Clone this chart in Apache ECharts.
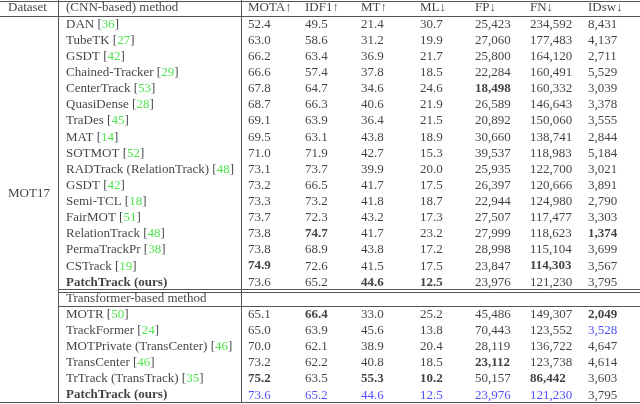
<!DOCTYPE html>
<html>
<head>
<meta charset="utf-8">
<script src="https://cdn.jsdelivr.net/npm/echarts@6/dist/echarts.min.js"></script>
<style>html,body{margin:0;padding:0;background:#fff}#main{width:640px;height:404px}</style>
</head>
<body>
<div id="main"></div>
<script>
// 表头
var headers = ['MOTA↑', 'IDF1↑', 'MT↑', 'ML↓', 'FP↓', 'FN↓', 'IDsw↓'];
var cnnMethods = ['DAN', 'TubeTK', 'GSDT', 'Chained-Tracker', 'CenterTrack', 'QuasiDense', 'TraDes', 'MAT', 'SOTMOT',
  'RADTrack (RelationTrack)', 'GSDT', 'Semi-TCL', 'FairMOT', 'RelationTrack', 'PermaTrackPr', 'CSTrack', 'PatchTrack (ours)'];
var cnnRefs = ['36', '27', '42', '29', '53', '28', '45', '14', '52', '48', '42', '18', '51', '48', '38', '19', ''];
var trMethods = ['MOTR', 'TrackFormer', 'MOTPrivate (TransCenter)', 'TransCenter', 'TrTrack (TransTrack)', 'PatchTrack (ours)'];
var trRefs = ['50', '24', '46', '46', '35', ''];
var mota = ['52.4', '63.0', '66.2', '66.6', '67.8', '68.7', '69.1', '69.5', '71.0', '73.1', '73.2', '73.3', '73.7', '73.8', '73.8', '74.9', '73.6',
  '65.1', '65.0', '70.0', '73.2', '75.2', '73.6'];
var idf1 = ['49.5', '58.6', '63.4', '57.4', '64.7', '66.3', '63.9', '63.1', '71.9', '73.7', '66.5', '73.2', '72.3', '74.7', '68.9', '72.6', '65.2',
  '66.4', '63.9', '62.1', '62.2', '63.5', '65.2'];
var mt = ['21.4', '31.2', '36.9', '37.8', '34.6', '40.6', '36.4', '43.8', '42.7', '39.9', '41.7', '41.8', '43.2', '41.7', '43.8', '41.5', '44.6',
  '33.0', '45.6', '38.9', '40.8', '55.3', '44.6'];
var ml = ['30.7', '19.9', '21.7', '18.5', '24.6', '21.9', '21.5', '18.9', '15.3', '20.0', '17.5', '18.7', '17.3', '23.2', '17.2', '17.5', '12.5',
  '25.2', '13.8', '20.4', '18.5', '10.2', '12.5'];
var fp = ['25,423', '27,060', '25,800', '22,284', '18,498', '26,589', '20,892', '30,660', '39,537', '25,935', '26,397', '22,944', '27,507', '27,999', '28,998', '23,847', '23,976',
  '45,486', '70,443', '28,119', '23,112', '50,157', '23,976'];
var fn = ['234,592', '177,483', '164,120', '160,491', '160,332', '146,643', '150,060', '138,741', '118,983', '122,700', '120,666', '124,980', '117,477', '118,623', '115,104', '114,303', '121,230',
  '149,307', '123,552', '136,722', '123,738', '86,442', '121,230'];
var idsw = ['8,431', '4,137', '2,711', '5,529', '3,039', '3,378', '3,555', '2,844', '5,184', '3,021', '3,891', '2,790', '3,303', '1,374', '3,699', '3,567', '3,795',
  '2,049', '3,528', '4,647', '4,614', '3,603', '3,795'];
// [行, 列] 粗体 / 蓝色
var boldCells = [[4, 4], [13, 1], [13, 6], [15, 0], [15, 5], [16, 2], [16, 3],
  [17, 1], [17, 6], [20, 4], [21, 0], [21, 2], [21, 3], [21, 5]];
var blueCells = [[18, 6], [22, 0], [22, 1], [22, 2], [22, 3], [22, 4], [22, 5]];

var colX = [248, 305, 361, 420, 475, 530, 588];
var methodX = 66;
var font = 'Liberation Serif';
var columns = [mota, idf1, mt, ml, fp, fn, idsw];

function has(list, r, c) {
  return list.some(function (p) { return p[0] === r && p[1] === c; });
}
function rowOf(i) { return i < 17 ? i + 1 : i + 2; }

var cells = [];
function addCell(x, row, text, extra) {
  cells.push({ value: [x, row], text: text, label: extra || {} });
}
addCell(8, 0, 'Dataset');
addCell(methodX, 0, '(CNN-based) method');
headers.forEach(function (h, c) { addCell(colX[c], 0, h); });
addCell(8, 11.5, 'MOT17');
addCell(methodX, 18, 'Transformer-based method');
var methods = cnnMethods.concat(trMethods);
var refs = cnnRefs.concat(trRefs);
methods.forEach(function (m, i) {
  var t = refs[i] ? '{n|' + m + ' [}{g|' + refs[i] + '}{n|]}' : '{b|' + m + '}';
  addCell(methodX, rowOf(i), t);
  columns.forEach(function (col, c) {
    var ex = {};
    if (has(boldCells, i, c)) ex.fontWeight = 'bold';
    if (has(blueCells, i, c)) ex.color = '#2222ff';
    addCell(colX[c], rowOf(i), col[i], ex);
  });
});

function hline(y, x1) {
  return [{ coord: [x1, y] }, { coord: [640, y] }];
}
function vline(x) {
  return [{ coord: [x, -0.5] }, { coord: [x, 24.5] }];
}

var myChart = echarts.init(document.getElementById('main'));
myChart.setOption({
  animation: false,
  grid: { left: 0, right: 0, top: 0, bottom: 0 },
  xAxis: { type: 'value', min: 0, max: 640, show: false },
  yAxis: { type: 'value', min: -0.5, max: 24.55, inverse: true, show: false },
  series: [{
    type: 'scatter',
    symbolSize: 0,
    data: cells.map(function (d) {
      return { value: d.value, name: d.text, label: d.label };
    }),
    label: {
      show: true,
      position: 'right',
      distance: 0,
      fontFamily: font,
      fontSize: 13,
      color: '#111',
      formatter: function (p) { return p.name; },
      rich: {
        n: { fontFamily: font, fontSize: 13, color: '#111' },
        g: { fontFamily: font, fontSize: 13, color: '#22dd22' },
        b: { fontFamily: font, fontSize: 13, color: '#111', fontWeight: 'bold' }
      }
    },
    markLine: {
      silent: true,
      symbol: 'none',
      label: { show: false },
      lineStyle: { color: '#555', width: 1, type: 'solid' },
      data: [
        hline(-0.45, 0), hline(0.5, 0), hline(17.43, 58), hline(17.6, 58), hline(18.5, 58), hline(24.45, 0),
        vline(58), vline(241)
      ]
    }
  }]
});
</script>
</body>
</html>
